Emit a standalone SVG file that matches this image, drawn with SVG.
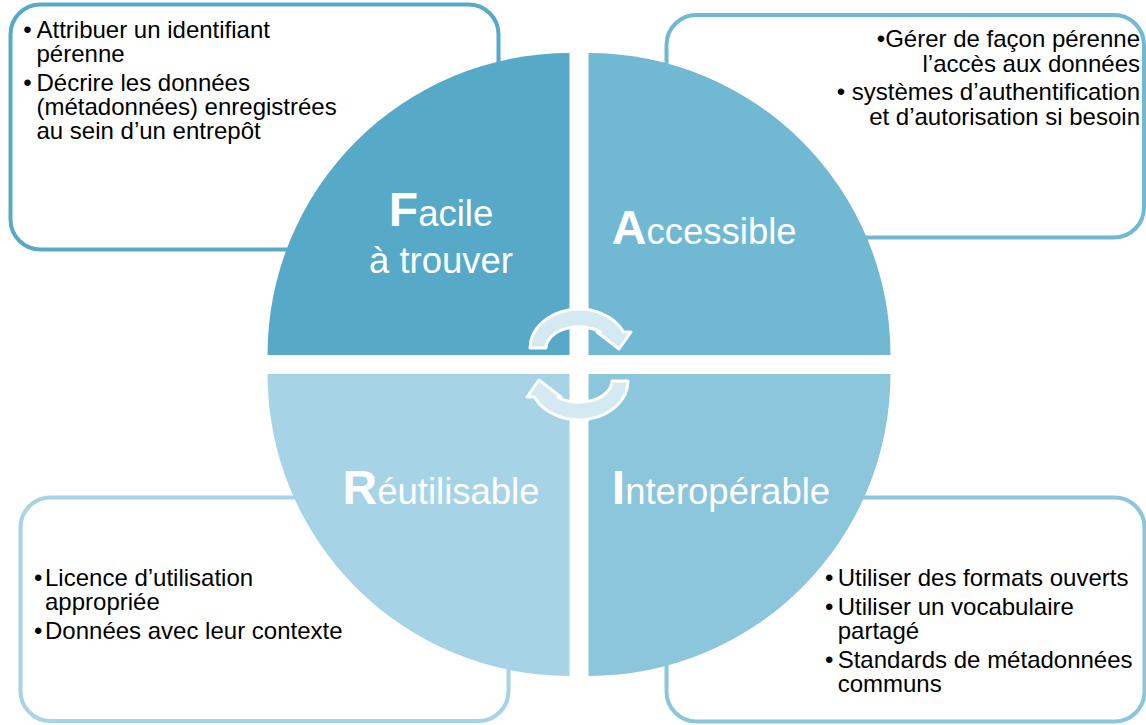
<svg xmlns="http://www.w3.org/2000/svg" width="1146" height="725" viewBox="0 0 1146 725">
  <style>
    .box { fill: #FFFFFF; stroke-width: 4; }
    .t { font-family: "Liberation Sans", Arial, sans-serif; font-size: 24px; fill: #000000; }
    .lbl { font-family: "Liberation Sans", Arial, sans-serif; font-size: 36.5px; fill: #FFFFFF; }
    .ini { font-size: 48px; font-weight: bold; }
    .arrow { fill: #D4E9F2; stroke: #FFFFFF; stroke-width: 3; stroke-linejoin: round; }
  </style>
  <rect width="1146" height="725" fill="#FFFFFF"/>

  <g id="box-f">
    <rect class="box" x="10.5" y="4.5" width="488" height="245" rx="30" stroke="#56AAC7"/>
    <text class="t"><tspan x="23.3" y="38">•</tspan><tspan x="36.5" y="38">Attribuer un identifiant</tspan><tspan x="36.5" y="62">pérenne</tspan></text>
    <text class="t"><tspan x="23.3" y="90.5">•</tspan><tspan x="36.5" y="90.5">Décrire les données</tspan><tspan x="36.5" y="115">(métadonnées) enregistrées</tspan><tspan x="36.5" y="139">au sein d’un entrepôt</tspan></text>
  </g>

  <g id="box-a">
    <rect class="box" x="666.5" y="15" width="477.5" height="222.5" rx="30" stroke="#71B9D3"/>
    <text class="t" text-anchor="end"><tspan x="1140" y="47">•Gérer de façon pérenne</tspan><tspan x="1140" y="72">l’accès aux données</tspan></text>
    <text class="t" text-anchor="end"><tspan x="1140" y="100">• systèmes d’authentification</tspan><tspan x="1140" y="125">et d’autorisation si besoin</tspan></text>
  </g>

  <g id="box-r">
    <rect class="box" x="20.5" y="497.5" width="488" height="223.5" rx="30" stroke="#A6D3E5"/>
    <text class="t"><tspan x="34" y="586">•</tspan><tspan x="45" y="586">Licence d’utilisation</tspan><tspan x="45" y="609.5">appropriée</tspan></text>
    <text class="t"><tspan x="34" y="639">•</tspan><tspan x="45" y="639">Données avec leur contexte</tspan></text>
  </g>

  <g id="box-i">
    <rect class="box" x="666.5" y="497.5" width="478" height="224" rx="30" stroke="#8BC6DC"/>
    <text class="t"><tspan x="825" y="586">•</tspan><tspan x="837.7" y="586">Utiliser des formats ouverts</tspan></text>
    <text class="t"><tspan x="825" y="614.5">•</tspan><tspan x="837.7" y="614.5">Utiliser un vocabulaire</tspan><tspan x="837.7" y="638.5">partagé</tspan></text>
    <text class="t"><tspan x="825" y="668">•</tspan><tspan x="837.7" y="668">Standards de métadonnées</tspan><tspan x="837.7" y="692">communs</tspan></text>
  </g>

  <g id="quadrant-f">
    <path d="M569.5,355 L267.5,355 A302,302 0 0 1 569.5,53 Z" fill="#56AAC7"/>
    <text class="lbl" text-anchor="middle"><tspan x="441" y="225.7"><tspan class="ini">F</tspan>acile</tspan><tspan x="441" y="272.6">à trouver</tspan></text>
  </g>

  <g id="quadrant-a">
    <path d="M588.5,355 L588.5,53 A302,302 0 0 1 890.5,355 Z" fill="#71B9D3"/>
    <text class="lbl" x="611.8" y="244"><tspan class="ini">A</tspan>ccessible</text>
  </g>

  <g id="quadrant-r">
    <path d="M569.5,374 L569.5,676 A302,302 0 0 1 267.5,374 Z" fill="#A6D4E6"/>
    <text class="lbl" x="441" y="504" text-anchor="middle"><tspan class="ini">R</tspan>éutilisable</text>
  </g>

  <g id="quadrant-i">
    <path d="M588.5,374 L890.5,374 A302,302 0 0 1 588.5,676 Z" fill="#8BC6DC"/>
    <text class="lbl" x="611.8" y="504"><tspan class="ini">I</tspan>nteropérable</text>
  </g>

  <g id="connectors">
    <path class="arrow" d="M530,348 A49,39 0 0 1 623.6,332 L631,332 L619,349 L597,332 L600.4,332 A33,22 0 0 0 546,348 Z"/>
    <path class="arrow" transform="rotate(180 579 364.5)" d="M530,348 A49,39 0 0 1 623.6,332 L631,332 L619,349 L597,332 L600.4,332 A33,22 0 0 0 546,348 Z"/>
  </g>
</svg>
